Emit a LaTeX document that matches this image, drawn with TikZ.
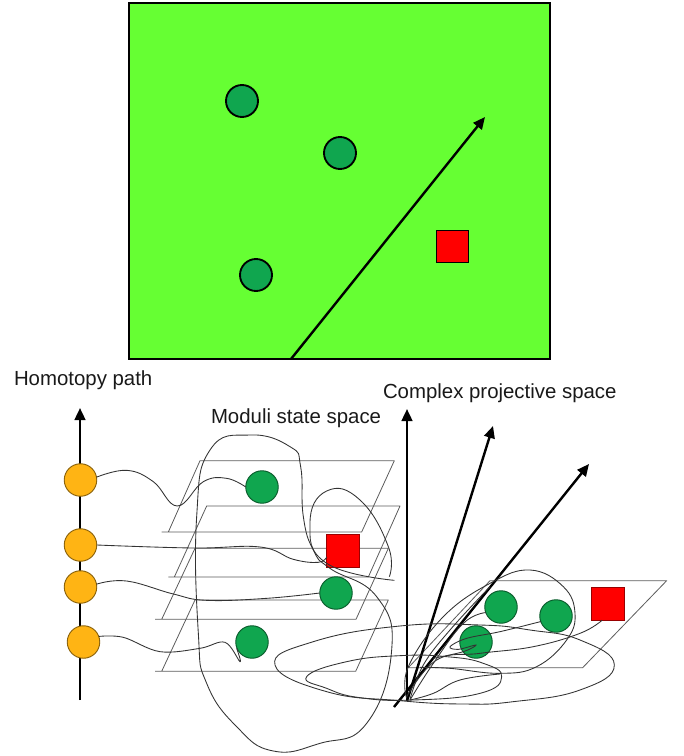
\documentclass[tikz,border=0pt]{standalone}
\usepackage{fontspec}
\setmainfont{Liberation Sans}
\usetikzlibrary{arrows.meta}
\definecolor{bgreen}{HTML}{66FF33}
\definecolor{dgreen}{HTML}{10A64F}
\definecolor{gold}{HTML}{FFB414}
\definecolor{thin}{HTML}{333333}
\tikzset{
  every node/.append style={inner sep=0pt,outer sep=0pt},
  dot/.style={circle,draw=#1!55!black,minimum size=32.5*0.75pt,line width=0.7pt},
  gdot/.style={dot=dgreen,fill=dgreen},
  odot/.style={dot=gold,fill=gold},
  bigdot/.style={circle,draw=black,fill=dgreen,line width=1.4pt,minimum size=32*0.75pt},
  rsq/.style={rectangle,draw=red!60!black,fill=red,minimum size=32.5*0.75pt,line width=0.7pt},
  bigsq/.style={rectangle,draw=black,fill=red,minimum size=32*0.75pt,line width=1.2pt},
  axisarrow/.style={line width=1.8pt,-{Triangle[length=9pt,width=8pt]}},
  sheet/.style={draw=thin!80,line width=0.6pt,line join=round},
  wire/.style={draw=thin,line width=0.65pt},
  lab/.style={font=\fontsize{15.3}{17}\selectfont,anchor=base west,text=black!90},
  zoomA/.style={shift={(60,400)},x=0.25pt,y=-0.25pt},
  zoomB/.style={shift={(380,400)},x=0.25pt,y=-0.25pt},
  zoomC/.style={shift={(400,570)},x=0.25pt,y=-0.25pt},
}
\begin{document}
\begin{tikzpicture}[x=0.75pt,y=-0.75pt]
\useasboundingbox (0,0) rectangle (684,756);
% top panel
\node[draw=black,fill=bgreen,line width=1.4pt,minimum width=421*0.75pt,minimum height=356*0.75pt,anchor=north west] (panel) at (129,3) {};
\node[bigdot] (t1) at (242,101) {};
\node[bigdot] (t2) at (340,153) {};
\node[bigdot] (t3) at (256,275) {};
\node[bigsq] (t4) at (452.5,246.5) {};
\coordinate (ts) at (291,359);
\coordinate (te) at (485,117);
\draw[axisarrow] (ts) -- (te);
% labels
\node[lab] (l1) at (14,385) {Homotopy path};
\node[lab] (l2) at (211,423) {Moduli state space};
\node[lab] (l3) at (383,398) {Complex projective space};
% sheets
\begin{scope}[zoomA]
\draw[sheet] (305,396) -- (905,396) -- (1003,182) -- (420,182) -- (325,396);
\draw[sheet] (325,531) -- (925,531) -- (1020,318) -- (440,318) -- (343,531);
\draw[sheet] (285,658) -- (888,658) -- (985,445) -- (405,445) -- (305,658);
\draw[sheet] (285,814) -- (887,814) -- (985,600) -- (405,600) -- (305,814);
\end{scope}
\begin{scope}[zoomB]
\draw[sheet] (85,803) -- (608,803) -- (860,542) -- (330,542) -- cycle;
\end{scope}
% axes
\coordinate (a0) at (80,700); \coordinate (a1) at (80,408);
\draw[axisarrow] (a0) -- (a1);
\coordinate (b0) at (407,701); \coordinate (b1) at (407,409);
\draw[axisarrow] (b0) -- (b1);
\coordinate (c0) at (407,701); \coordinate (c1) at (493,426);
\draw[axisarrow] (c0) -- (c1);
\coordinate (d0) at (394,707); \coordinate (d1) at (589,464);
\draw[axisarrow] (d0) -- (d1);
% nodes
\node[odot] (g1) at (80.5,480) {};
\node[odot] (g2) at (80.5,545) {};
\node[odot] (g3) at (80.5,587) {};
\node[odot] (g4) at (83.5,642) {};
\node[gdot] (m1) at (262,487) {};
\node[rsq]  (m2) at (343,551) {};
\node[gdot] (m3) at (336,593) {};
\node[gdot] (m4) at (252,642) {};
\node[gdot] (p1) at (501,607) {};
\node[gdot] (p2) at (556,616) {};
\node[gdot] (p3) at (476,642) {};
\node[rsq]  (p4) at (608,604) {};
% moduli wires
\begin{scope}[zoomA]
\draw[wire] plot[smooth,tension=0.7] coordinates {(g1.10) (200,211) (280,245) (352,318) (430,245) (500,235) (m1.west)};
\draw[wire] plot[smooth,tension=0.7] coordinates {(g2.east) (400,444) (600,441) (700,478) (775,487) (m2.200)};
\draw[wire] plot[smooth,tension=0.7] coordinates {(g3.10) (200,543) (340,582) (440,601) (620,595) (m3.west)};
\draw[wire] plot[smooth,tension=0.6] coordinates {(g4.20) (190,712) (300,755) (420,745) (495,727) (540,785) (530,745)};
\draw[wire] plot[smooth cycle,tension=0.8] coordinates {(722,200) (730,350) (760,450) (810,505) (950,590) (995,750) (920,970) (780,1030) (640,1053) (530,980) (440,850) (415,700) (410,350) (450,150) (570,105) (690,140)};
\draw[wire] plot[smooth,tension=0.8] coordinates {(1003,541) (800,490) (750,370) (800,273) (900,300) (985,440) (988,530)};
\end{scope}
% projective wires
\begin{scope}[zoomB]
\draw[wire] plot[smooth cycle,tension=0.8] coordinates {(-315,795) (-200,725) (60,678) (300,675) (450,690) (600,720) (703,795) (600,870) (400,905) (250,912) (60,902) (-160,875)};
\draw[wire] plot[smooth cycle,tension=0.8] coordinates {(-220,830) (-100,785) (60,767) (200,770) (310,790) (365,830) (300,880) (100,900) (-60,893) (-160,865)};
\end{scope}
\begin{scope}[zoomC]
\draw[wire] plot[smooth,tension=0.7] coordinates {(30,390) (100,370) (180,330) (300,312)};
\draw[wire] plot[smooth,tension=0.7] coordinates {(20,385) (25,290) (130,140) (270,40) (390,0) (490,50) (525,130) (500,210) (410,290) (300,310) (150,295) (60,292)};
\draw[wire] plot[smooth,tension=0.7] coordinates {(30,388) (70,285) (150,180) (270,50)};
\draw[wire] plot[smooth,tension=0.7] coordinates {(p1.200) (190,160) (100,280) (30,390)};
\draw[wire] plot[smooth,tension=0.7] coordinates {(p4.250) (540,190) (400,230) (240,250) (110,270) (20,380)};
\draw[wire] plot[smooth,tension=0.6] coordinates {(p2.200) (300,185) (200,205) (150,230) (175,238) (228,225) (190,245) (100,265)};
\end{scope}
\end{tikzpicture}
\end{document}
